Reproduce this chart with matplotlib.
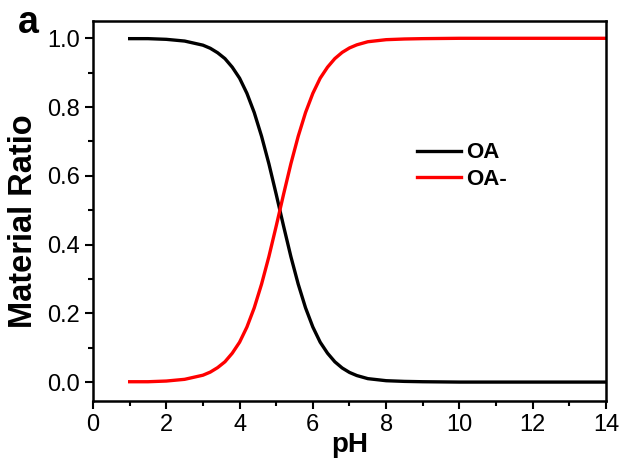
import matplotlib
matplotlib.use("Agg")
import matplotlib.pyplot as plt
from matplotlib.ticker import MultipleLocator, FormatStrFormatter

plt.rcParams['font.family'] = ['Liberation Sans', 'DejaVu Sans']

ph = [1.0, 1.5, 2.0, 2.5, 3.0, 3.2, 3.4, 3.6, 3.8, 4.0, 4.2, 4.4, 4.6, 4.8,
      5.0, 5.2, 5.4, 5.6, 5.8, 6.0, 6.2, 6.4, 6.6, 6.8, 7.0, 7.2, 7.5, 8.0,
      8.5, 9.0, 10.0, 12.0, 14.0]
oa = [0.999, 0.999, 0.997, 0.992, 0.980, 0.971, 0.958, 0.941, 0.916, 0.884,
      0.840, 0.784, 0.715, 0.635, 0.546, 0.454, 0.365, 0.285, 0.216, 0.160,
      0.116, 0.084, 0.059, 0.041, 0.028, 0.019, 0.010, 0.004, 0.002, 0.001,
      0.000, 0.000, 0.000]
oa_minus = [0.001, 0.001, 0.003, 0.008, 0.020, 0.029, 0.042, 0.059, 0.084,
            0.116, 0.160, 0.216, 0.285, 0.365, 0.454, 0.546, 0.635, 0.715,
            0.784, 0.840, 0.884, 0.916, 0.941, 0.959, 0.972, 0.981, 0.990,
            0.996, 0.998, 0.999, 1.000, 1.000, 1.000]

fig = plt.figure(figsize=(6.21, 4.59), dpi=100)
ax = fig.add_axes([0.1498, 0.1264, 0.826, 0.8276])
ax.plot(ph, oa, color='black', lw=2.4, label='OA', solid_joinstyle='round')
ax.plot(ph, oa_minus, color='#ff0000', lw=2.4, label='OA-', solid_joinstyle='round')

ax.set_xlim(0, 14)
ax.set_ylim(-0.055, 1.05)
ax.xaxis.set_major_locator(MultipleLocator(2))
ax.xaxis.set_minor_locator(MultipleLocator(1))
ax.yaxis.set_major_locator(MultipleLocator(0.2))
ax.yaxis.set_minor_locator(MultipleLocator(0.1))
ax.yaxis.set_major_formatter(FormatStrFormatter('%.1f'))
for s in ax.spines.values():
    s.set_linewidth(1.8)
ax.tick_params(which='major', direction='out', length=6, width=1.5, labelsize=17, pad=3.5)
ax.tick_params(which='minor', direction='out', length=3.5, width=1.5)

ax.set_xlabel('pH', fontsize=20, fontweight='bold', labelpad=-3)
ax.set_ylabel('Material Ratio', fontsize=23.5, fontweight='bold')
ax.yaxis.set_label_coords(-0.105, 0.472)

leg = ax.legend(loc='center left', bbox_to_anchor=(0.632, 0.618), frameon=False,
                prop={'weight': 'bold', 'size': 16}, handlelength=1.95,
                handletextpad=0.25, labelspacing=0.25, borderpad=0, borderaxespad=0)

fig.text(0.029, 0.928, 'a', fontsize=27, fontweight='bold', va='baseline')

fig.savefig('out.png', dpi=100)
